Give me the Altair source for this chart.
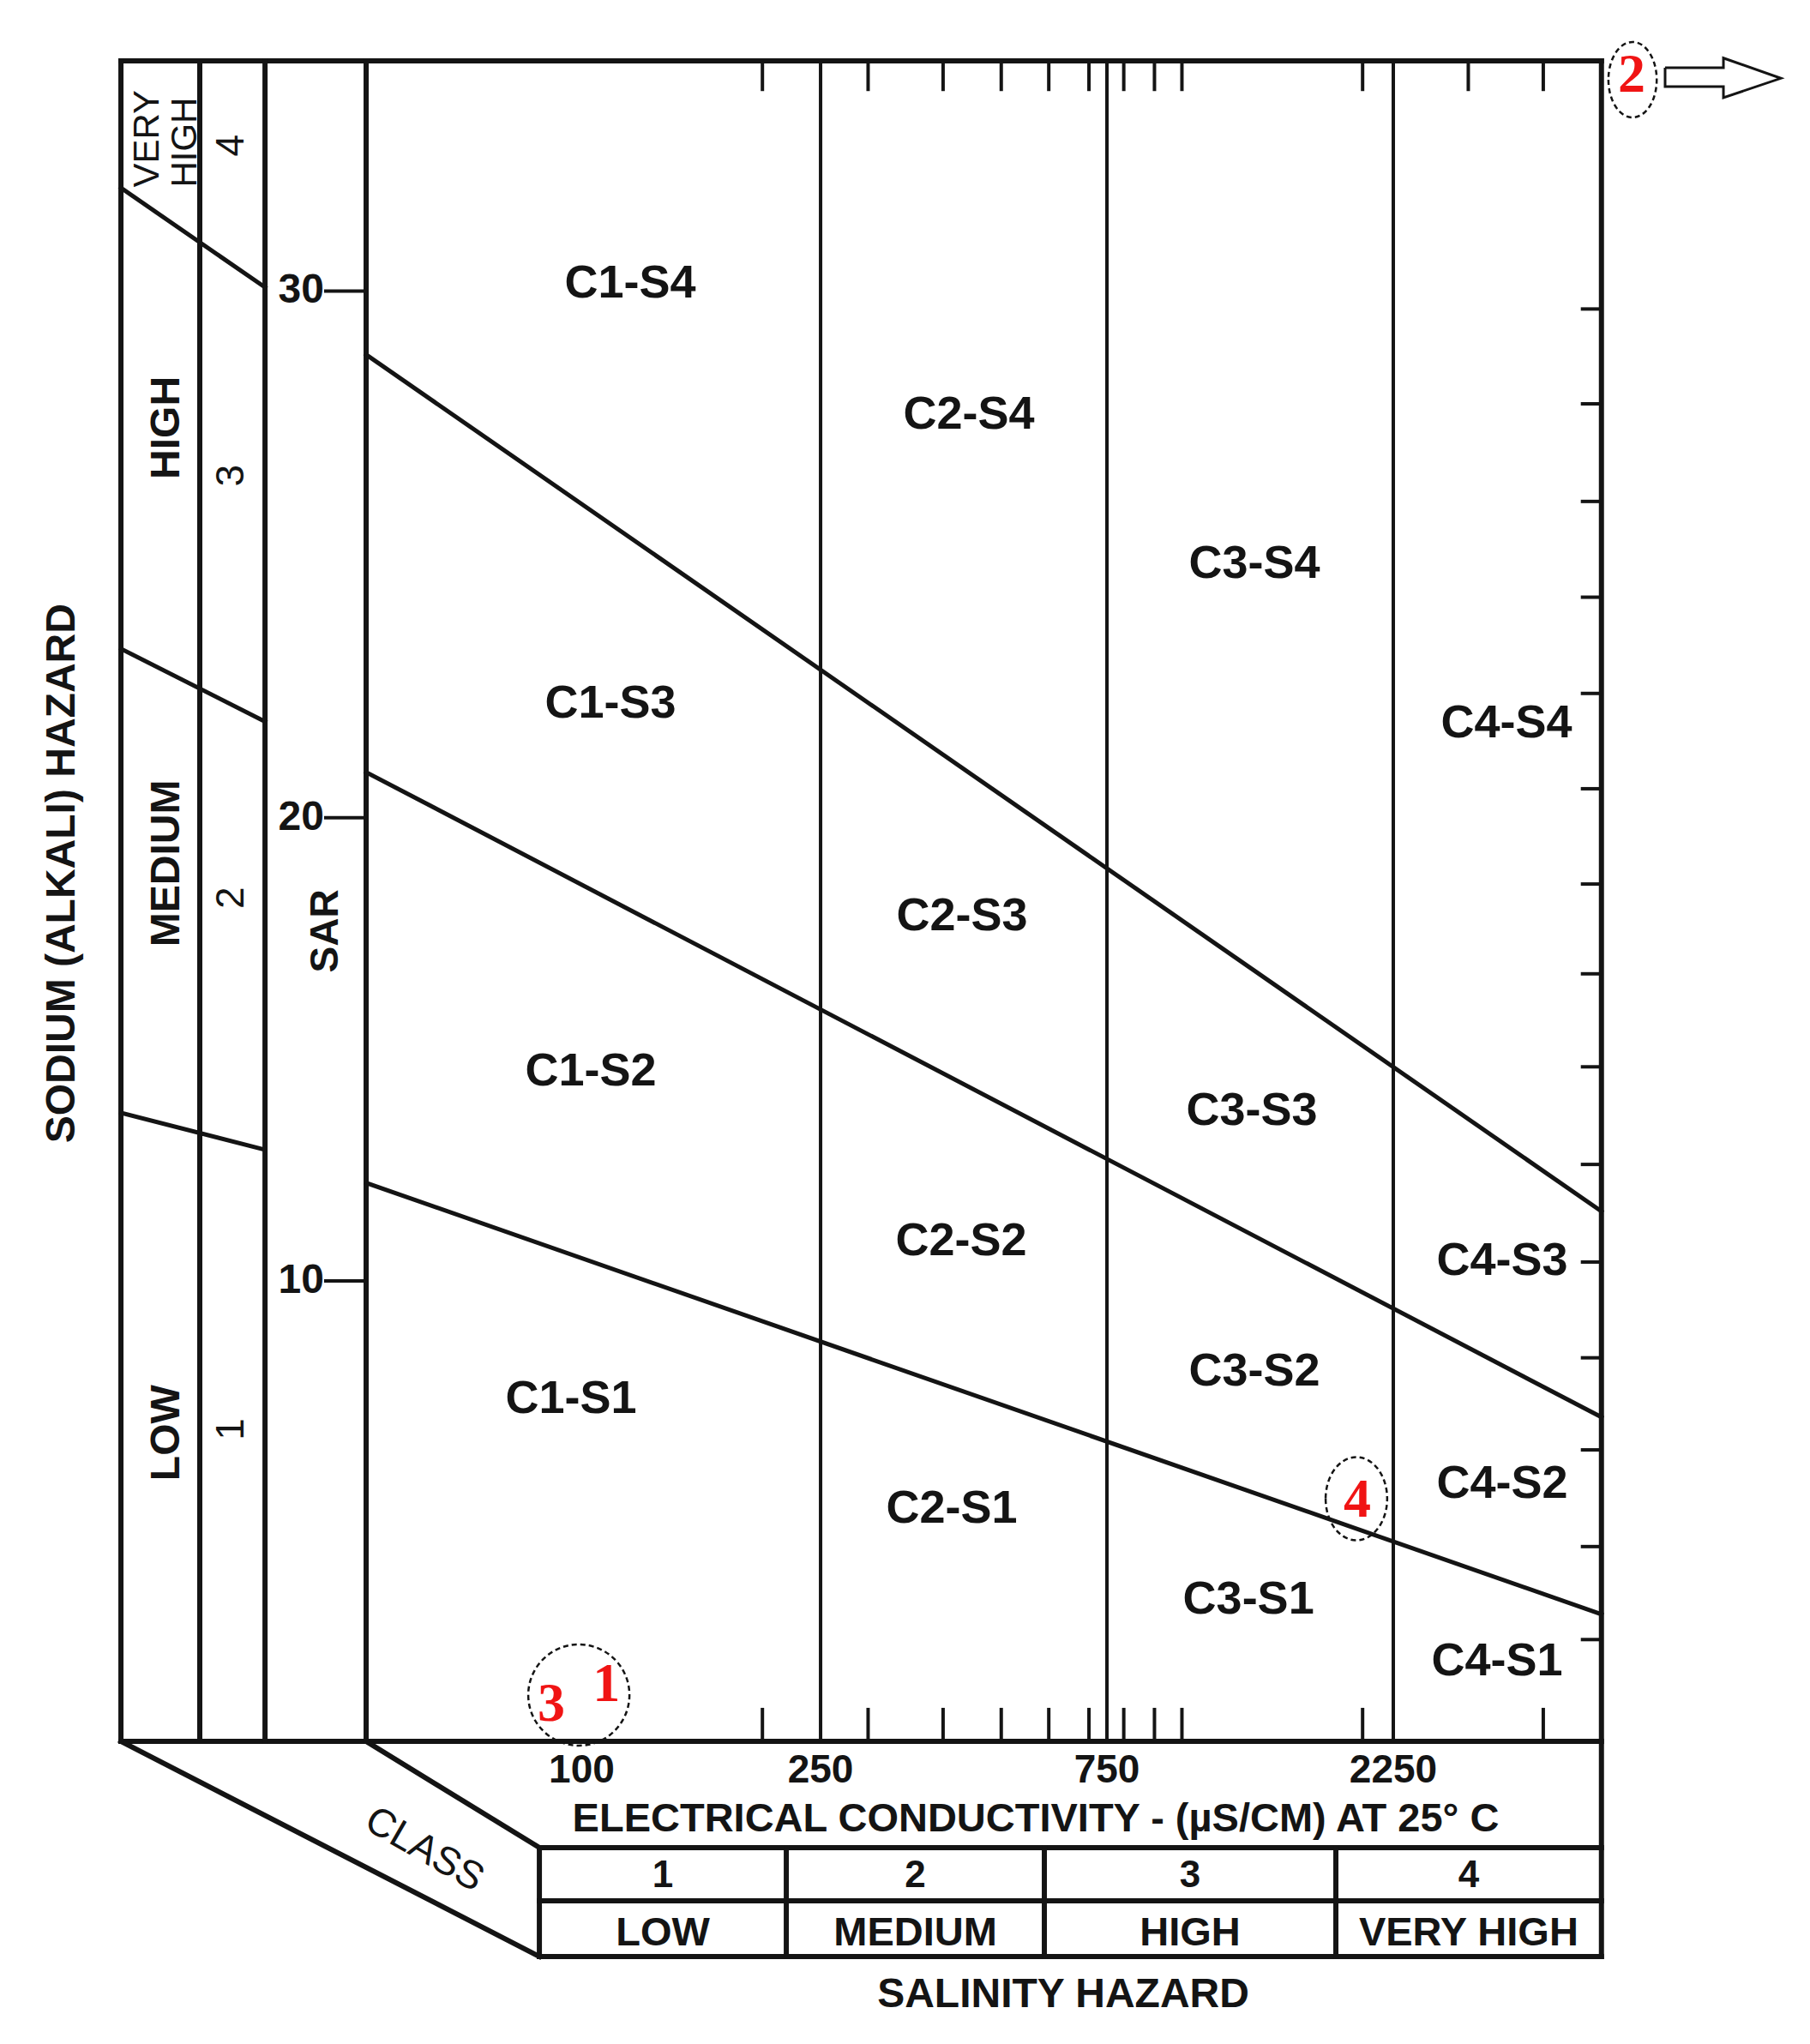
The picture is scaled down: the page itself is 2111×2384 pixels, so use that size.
import altair as alt
import pandas as pd

# ---------------- values ----------------
# Diagram extent: EC (µS/cm, log axis) and SAR (linear axis)
ec_panel_edges = [17.07, 23.10, 29.67]      # outer edge + the two left-panel column dividers
ec_plot_left = 43.73
ec_plot_right = 5000
sar_top = 36.5
sar_tick_start = 37.46                      # where the SAR-axis tick marks begin

# salinity class boundaries and EC axis
salinity_bounds = [250, 750, 2250]
ec_axis_labels = [100, 250, 750, 2250]
bottom_ticks = [200, 300, 400, 500, 600, 700, 800, 900, 1000, 2000, 4000]
top_ticks = [200, 300, 400, 500, 600, 700, 800, 900, 1000, 2000, 3000, 4000]

# sodium hazard boundaries in the main plot: SAR at left edge and at right edge
boundary_sar_left = [12.13, 21.05, 30.12]
boundary_sar_right = [2.76, 7.04, 11.51]

# same boundaries in the left perspective panel: SAR at outer edge / at SAR column
panel_boundary_outer = [13.65, 23.73, 33.74]
panel_boundary_inner = [12.85, 22.15, 31.58]

# SAR axis labels and where they are printed
sar_labels = ["10", "20", "30"]
sar_label_pos = [10.0, 20.06, 31.5]
right_ticks_sar = [2.21, 4.23, 6.33, 8.33, 10.41, 12.53, 14.65, 16.67,
                   18.62, 20.69, 22.76, 24.85, 26.93, 29.05, 31.11]

# zone labels
zone_names = ["C1-S4", "C2-S4", "C3-S4", "C4-S4",
              "C1-S3", "C2-S3", "C3-S3", "C4-S3",
              "C1-S2", "C2-S2", "C3-S2", "C4-S2",
              "C1-S1", "C2-S1", "C3-S1", "C4-S1"]
zone_ec = [120.4, 441.6, 1321, 3474,
           111.7, 430.2, 1308, 3417,
           103.5, 428.8, 1321, 3417,
           96.0, 413.5, 1291, 3350]
zone_sar = [31.65, 28.81, 25.56, 22.10,
            22.53, 17.91, 13.69, 10.43,
            14.54, 10.86, 8.03, 5.59,
            7.43, 5.05, 3.07, 1.73]

# salinity hazard class table
salinity_class_numbers = ["1", "2", "3", "4"]
salinity_class_names = ["LOW", "MEDIUM", "HIGH", "VERY HIGH"]
table_cell_edges_ec = [85.0, 219.2, 589.9, 1805, 5000]
table_rows_sar = [-2.309, -3.464, -4.674]

# sodium hazard classes (left panel)
sodium_class_numbers = ["1", "2", "3", "4"]
sodium_number_sar = [6.78, 18.32, 27.49, 34.66]
sodium_class_names = ["LOW", "MEDIUM", "HIGH"]
sodium_name_sar = [6.70, 19.07, 28.53]

# red sample markers
marker_labels = ["3", "1", "2", "4"]
marker_ec = [88.98, 109.9, 5614, 1960]
marker_sar = [0.80, 1.23, 36.18, 5.23]
# hollow arrow next to marker 2
arrow_ec = [6383, 7984, 7984, 9952, 7984, 7984, 6383, 6383]
arrow_sar = [36.35, 36.35, 36.56, 36.12, 35.70, 35.94, 35.94, 36.35]

# ---------------- scales ----------------
xs = alt.Scale(type="log", domain=[11.02, 10663], nice=False)
ys = alt.Scale(type="linear", domain=[-6.276, 37.672], nice=False, zero=False)

SANS = "Liberation Sans"
NARROW = "Liberation Sans Narrow, Liberation Sans"
SERIF = "Liberation Serif"
INK = "#141414"
RED = "#f01414"


def seg_df(rows):
    return pd.DataFrame(rows, columns=["ec", "sar", "ec2", "sar2"])


def rules(df, width):
    return alt.Chart(df).mark_rule(strokeWidth=width, color=INK, strokeCap="square").encode(
        x=alt.X("ec:Q", scale=xs, axis=None),
        x2="ec2:Q",
        y=alt.Y("sar:Q", scale=ys, axis=None),
        y2="sar2:Q",
    )


def texts(df, **kw):
    return alt.Chart(df).mark_text(**kw).encode(
        x=alt.X("ec:Q", scale=xs, axis=None),
        y=alt.Y("sar:Q", scale=ys, axis=None),
        text="label:N",
    )


outer = ec_panel_edges[0]
tl = table_cell_edges_ec[0]

# frame of the diagram
frame_rows = [
    (outer, sar_top, ec_plot_right, sar_top),
    (outer, 0, ec_plot_right, 0),
    (ec_plot_right, table_rows_sar[-1], ec_plot_right, sar_top),
    (outer, 0, tl, table_rows_sar[-1]),
    (ec_plot_left, 0, tl, table_rows_sar[0]),
    (tl, table_rows_sar[0], tl, table_rows_sar[-1]),
]
for e in ec_panel_edges + [ec_plot_left]:
    frame_rows.append((e, 0, e, sar_top))
for r in table_rows_sar:
    frame_rows.append((tl, r, ec_plot_right, r))
for e in table_cell_edges_ec[1:-1]:
    frame_rows.append((e, table_rows_sar[0], e, table_rows_sar[-1]))
frame = rules(seg_df(frame_rows), 6)

# hazard boundaries
bnd_rows = [(ec_plot_left, a, ec_plot_right, b) for a, b in zip(boundary_sar_left, boundary_sar_right)]
bnd_rows += [(outer, a, ec_panel_edges[2], b) for a, b in zip(panel_boundary_outer, panel_boundary_inner)]
boundaries = rules(seg_df(bnd_rows), 5)

cls_rows = [(e, 0, e, sar_top) for e in salinity_bounds]
class_lines = rules(seg_df(cls_rows), 4)

# ticks
tick_rows = [(e, 0, e, 0.69) for e in bottom_ticks]
tick_rows += [(e, sar_top, e, sar_top - 0.62) for e in top_ticks]
tick_rows += [(4650, s, ec_plot_right, s) for s in right_ticks_sar]
tick_rows += [(sar_tick_start, s, ec_plot_left, s) for s in sar_label_pos]
ticks = rules(seg_df(tick_rows), 4)

# zone labels
zones = texts(pd.DataFrame({"ec": zone_ec, "sar": zone_sar, "label": zone_names}),
              font=SANS, fontSize=54, fontWeight="bold", color=INK)

# EC axis labels and title
ec_lab = texts(pd.DataFrame({"ec": ec_axis_labels, "sar": [-0.633] * 4,
                             "label": [str(v) for v in ec_axis_labels]}),
               font=NARROW, fontSize=46, fontWeight="bold", color=INK, baseline="middle")
ec_title = texts(pd.DataFrame({"ec": [570.7], "sar": [-1.70],
                               "label": ["ELECTRICAL CONDUCTIVITY - (µS/CM) AT 25° C"]}),
                 font=NARROW, fontSize=47, fontWeight="bold", color=INK, baseline="middle")

# class table
centers = [(a * b) ** 0.5 for a, b in zip(table_cell_edges_ec[:-1], table_cell_edges_ec[1:])]
tab_num = texts(pd.DataFrame({"ec": centers, "sar": [-2.92] * 4, "label": salinity_class_numbers}),
                font=NARROW, fontSize=44, fontWeight="bold", color=INK, baseline="middle")
tab_name = texts(pd.DataFrame({"ec": centers, "sar": [-4.17] * 4, "label": salinity_class_names}),
                 font=NARROW, fontSize=47, fontWeight="bold", color=INK, baseline="middle")
sal_title = texts(pd.DataFrame({"ec": [634.2], "sar": [-5.51], "label": ["SALINITY HAZARD"]}),
                  font=NARROW, fontSize=48, fontWeight="bold", color=INK, baseline="middle")
class_word = texts(pd.DataFrame({"ec": [54.7], "sar": [-2.35], "label": ["CLASS"]}),
                   font=SANS, fontSize=46, color=INK, angle=30, baseline="middle")

# left panel: sodium hazard
sod_names = texts(pd.DataFrame({"ec": [20.39] * 3, "sar": sodium_name_sar, "label": sodium_class_names}),
                  font=SANS, fontSize=48, fontWeight="bold", color=INK, angle=270, baseline="middle")
very_high = texts(pd.DataFrame({"ec": [18.9], "sar": [33.75], "label": ["VERY\nHIGH"]}),
                  font=SANS, fontSize=42, color=INK, angle=270, align="left", baseline="middle",
                  lineBreak="\n", lineHeight=44)
sod_nums = texts(pd.DataFrame({"ec": [26.1] * 4, "sar": sodium_number_sar, "label": sodium_class_numbers}),
                 font=SANS, fontSize=46, color=INK, angle=270, baseline="middle")
sar_word = texts(pd.DataFrame({"ec": [37.46], "sar": [17.60], "label": ["SAR"]}),
                 font=SANS, fontSize=46, fontWeight="bold", color=INK, angle=270, baseline="middle")
sar_lab = texts(pd.DataFrame({"ec": [sar_tick_start] * 3, "sar": sar_label_pos, "label": sar_labels}),
                font=SANS, fontSize=48, fontWeight="bold", color=INK, align="right", baseline="middle", dx=-2)
sodium_title = texts(pd.DataFrame({"ec": [13.65], "sar": [18.85], "label": ["SODIUM (ALKALI) HAZARD"]}),
                     font=SANS, fontSize=48, fontWeight="bold", color=INK, angle=270, baseline="middle")

# red markers with dashed rings
marks = texts(pd.DataFrame({"ec": marker_ec, "sar": marker_sar, "label": marker_labels}),
              font=SERIF, fontSize=64, fontWeight="bold", color=RED, baseline="middle")


def ring(ec, sar, rx, size):
    path = f"M -{rx} 0 A {rx} 1 0 1 0 {rx} 0 A {rx} 1 0 1 0 -{rx} 0 Z"
    return alt.Chart(pd.DataFrame({"ec": [ec], "sar": [sar]})).mark_point(
        shape=path, size=size, filled=False, color=INK, strokeWidth=2.5,
        strokeDash=[6, 4], opacity=1
    ).encode(x=alt.X("ec:Q", scale=xs, axis=None), y=alt.Y("sar:Q", scale=ys, axis=None))


rings = [ring(98.9, 1.006, 1.0, 118 * 118), ring(5634, 36.09, 0.64, 88 * 88), ring(1953, 5.27, 0.74, 97 * 97)]

arrow = alt.Chart(pd.DataFrame({"ec": arrow_ec, "sar": arrow_sar, "i": list(range(len(arrow_ec)))})).mark_line(
    color=INK, strokeWidth=3
).encode(
    x=alt.X("ec:Q", scale=xs, axis=None),
    y=alt.Y("sar:Q", scale=ys, axis=None),
    order="i:Q",
)

chart = alt.layer(
    boundaries, class_lines, ticks, frame, zones, ec_lab, ec_title, tab_num, tab_name, sal_title,
    class_word, sod_names, very_high, sod_nums, sar_word, sar_lab, sodium_title, *rings, marks, arrow
).properties(width=2090, height=2360, padding=0, background="white").configure_view(stroke=None)

chart.save("out.html", embed_options={"renderer": "svg", "actions": False})
